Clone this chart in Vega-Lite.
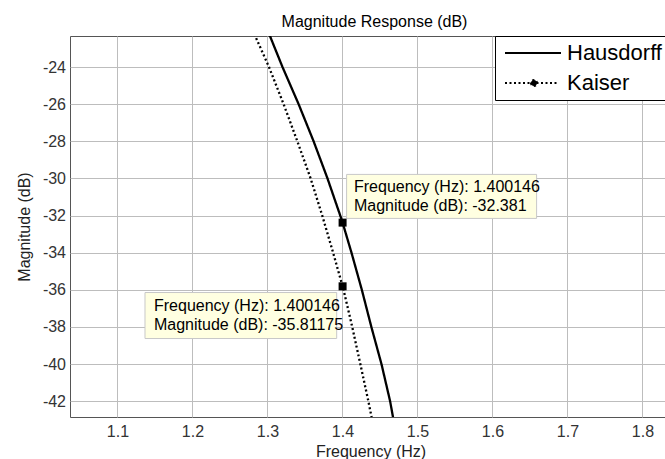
{
  "$schema": "https://vega.github.io/schema/vega-lite/v6.json",
  "autosize": {"type": "none"},
  "padding": {"left": 70, "top": 36, "right": 0, "bottom": 42},
  "width": 595,
  "height": 381,
  "background": "white",
  "title": {"text": "Magnitude Response (dB)", "fontSize": 16, "fontWeight": "normal", "font": "Liberation Sans", "color": "#000000", "anchor": "middle", "dx": 7, "offset": 6},
  "datasets": {
    "curves": [
      {"series": "Hausdorff", "f": 1.3000, "v": -22.0},
      {"series": "Hausdorff", "f": 1.3200, "v": -24.0},
      {"series": "Hausdorff", "f": 1.3415, "v": -26.0},
      {"series": "Hausdorff", "f": 1.3615, "v": -28.0},
      {"series": "Hausdorff", "f": 1.3800, "v": -30.0},
      {"series": "Hausdorff", "f": 1.3970, "v": -32.0},
      {"series": "Hausdorff", "f": 1.400146, "v": -32.381},
      {"series": "Hausdorff", "f": 1.4120, "v": -34.0},
      {"series": "Hausdorff", "f": 1.4258, "v": -36.0},
      {"series": "Hausdorff", "f": 1.4385, "v": -38.0},
      {"series": "Hausdorff", "f": 1.4520, "v": -40.0},
      {"series": "Hausdorff", "f": 1.4635, "v": -42.0},
      {"series": "Hausdorff", "f": 1.4680, "v": -43.0},
      {"series": "Kaiser", "f": 1.2800, "v": -22.0},
      {"series": "Kaiser", "f": 1.3020, "v": -24.0},
      {"series": "Kaiser", "f": 1.3215, "v": -26.0},
      {"series": "Kaiser", "f": 1.3398, "v": -28.0},
      {"series": "Kaiser", "f": 1.3575, "v": -30.0},
      {"series": "Kaiser", "f": 1.3730, "v": -32.0},
      {"series": "Kaiser", "f": 1.3875, "v": -34.0},
      {"series": "Kaiser", "f": 1.400146, "v": -35.81175},
      {"series": "Kaiser", "f": 1.4014, "v": -36.0},
      {"series": "Kaiser", "f": 1.4130, "v": -38.0},
      {"series": "Kaiser", "f": 1.4238, "v": -40.0},
      {"series": "Kaiser", "f": 1.4345, "v": -42.0},
      {"series": "Kaiser", "f": 1.4395, "v": -43.0}
    ],
    "tips": [
      {"series": "Hausdorff", "f": 1.400146, "v": -32.381, "label": ["Frequency (Hz): 1.400146", "Magnitude (dB): -32.381"]},
      {"series": "Kaiser", "f": 1.400146, "v": -35.81175, "label": ["Frequency (Hz): 1.400146", "Magnitude (dB): -35.81175"]}
    ]
  },
  "config": {
    "font": "Liberation Sans",
    "view": {"stroke": "#555555", "strokeWidth": 1},
    "axis": {
      "labelFont": "Liberation Sans",
      "titleFont": "Liberation Sans",
      "labelFontSize": 16,
      "titleFontSize": 16,
      "titleFontWeight": "normal",
      "labelColor": "#333333",
      "titleColor": "#222222",
      "gridColor": "#BDBDBD",
      "gridWidth": 1,
      "gridOpacity": 1,
      "domain": false,
      "ticks": false
    }
  },
  "layer": [
    {
      "data": {"name": "curves"},
      "mark": {"type": "line", "clip": true, "color": "black", "strokeWidth": 2.3},
      "encoding": {
        "x": {"field": "f", "type": "quantitative", "scale": {"domain": [1.0367, 1.83], "nice": false, "zero": false},
              "axis": {"title": "Frequency (Hz)", "values": [1.1, 1.2, 1.3, 1.4, 1.5, 1.6, 1.7, 1.8], "format": ".1f", "labelPadding": 6, "titlePadding": 4, "titleX": 300.5}},
        "y": {"field": "v", "type": "quantitative", "scale": {"domain": [-42.85, -22.33], "nice": false, "zero": false},
              "axis": {"title": "Magnitude (dB)", "values": [-42, -40, -38, -36, -34, -32, -30, -28, -26, -24], "labelExpr": "datum.value < 0 ? '-' + abs(datum.value) : '' + datum.value", "labelPadding": 4.5, "titlePadding": 10}},
        "order": {"field": "v", "sort": "descending"},
        "detail": {"field": "series"},
        "strokeDash": {
          "field": "series", "type": "nominal",
          "scale": {"domain": ["Hausdorff", "Kaiser"], "range": [[1, 0], [2, 2.5]]},
          "legend": {
            "orient": "none", "legendX": 425, "legendY": 0, "title": null,
            "strokeColor": "black", "fillColor": "white", "padding": 6,
            "labelFontSize": 22, "labelFont": "Liberation Sans", "labelColor": "black", "labelLimit": 300,
            "labelOffset": 44, "rowPadding": 8,
            "symbolType": "M-1,0H7", "symbolSize": 196, "symbolStrokeWidth": 2, "symbolStrokeColor": "black",
            "encode": {
              "symbols": {
                "update": {
                  "shape": {"signal": "datum.value === 'Kaiser' ? 'M-1,0H6.43M2.71,0a0.43,0.43 0 1,0 0.86,0a0.43,0.43 0 1,0 -0.86,0' : 'M-1,0H7'"},
                  "fill": {"value": "black"},
                  "stroke": {"value": "black"},
                  "strokeWidth": {"value": 2},
                  "strokeOpacity": {"value": 1},
                  "opacity": {"value": 1}
                }
              }
            }
          }
        }
      }
    },
    {
      "data": {"name": "tips"},
      "transform": [{"filter": "datum.series === 'Hausdorff'"}],
      "mark": {"type": "rect", "fill": "#FFFFE1", "stroke": "#C8C8C8", "strokeWidth": 1, "xOffset": 4, "x2Offset": 194, "yOffset": -48.2, "y2Offset": -4.2},
      "encoding": {
        "x": {"field": "f", "type": "quantitative"},
        "x2": {"field": "f"},
        "y": {"field": "v", "type": "quantitative"},
        "y2": {"field": "v"}
      }
    },
    {
      "data": {"name": "tips"},
      "transform": [{"filter": "datum.series === 'Kaiser'"}],
      "mark": {"type": "rect", "fill": "#FFFFE1", "stroke": "#C8C8C8", "strokeWidth": 1, "xOffset": -197.6, "x2Offset": -5.9, "yOffset": 6.2, "y2Offset": 52.2},
      "encoding": {
        "x": {"field": "f", "type": "quantitative"},
        "x2": {"field": "f"},
        "y": {"field": "v", "type": "quantitative"},
        "y2": {"field": "v"}
      }
    },
    {
      "data": {"name": "tips"},
      "transform": [{"filter": "datum.series === 'Hausdorff'"}],
      "mark": {"type": "text", "align": "left", "baseline": "middle", "dx": 11.4, "dy": -35.8, "fontSize": 16, "lineHeight": 19, "font": "Liberation Sans", "color": "#000000"},
      "encoding": {
        "x": {"field": "f", "type": "quantitative"},
        "y": {"field": "v", "type": "quantitative"},
        "text": {"field": "label"}
      }
    },
    {
      "data": {"name": "tips"},
      "transform": [{"filter": "datum.series === 'Kaiser'"}],
      "mark": {"type": "text", "align": "left", "baseline": "middle", "dx": -188.6, "dy": 19.6, "fontSize": 16, "lineHeight": 19, "font": "Liberation Sans", "color": "#000000"},
      "encoding": {
        "x": {"field": "f", "type": "quantitative"},
        "y": {"field": "v", "type": "quantitative"},
        "text": {"field": "label"}
      }
    },
    {
      "data": {"name": "tips"},
      "mark": {"type": "point", "shape": "square", "filled": true, "color": "black", "size": 64, "opacity": 1},
      "encoding": {
        "x": {"field": "f", "type": "quantitative"},
        "y": {"field": "v", "type": "quantitative"}
      }
    }
  ]
}
